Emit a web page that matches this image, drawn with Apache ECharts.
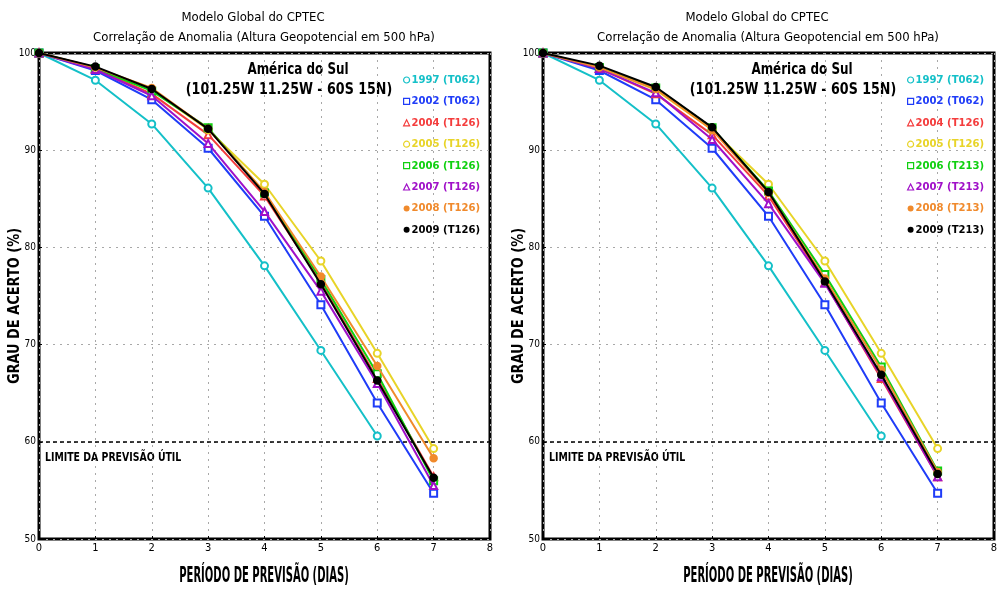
<!DOCTYPE html>
<html><head><meta charset="utf-8">
<script src="https://cdn.jsdelivr.net/npm/echarts@6/dist/echarts.min.js"></script>
<style>html,body{margin:0;padding:0;background:#fff}#c{width:1005px;height:609px}</style>
</head><body><div id="c"></div>
<script>
const days = [0, 1, 2, 3, 4, 5, 6, 7];
const xTickLabels = ['0','1','2','3','4','5','6','7','8'];
const yTickLabels = ['50','60','70','80','90','100'];

const names = ['1997', '2002', '2004', '2005', '2006', '2007', '2008', '2009'];
const resLeft  = ['T062', 'T062', 'T126', 'T126', 'T126', 'T126', 'T126', 'T126'];
const resRight = ['T062', 'T062', 'T126', 'T126', 'T213', 'T213', 'T213', 'T213'];

// left panel values
const L1997 = [100, 97.2, 92.7, 86.1, 78.1, 69.4, 60.6];
const L2002 = [100, 98.2, 95.2, 90.2, 83.2, 74.1, 64.0, 54.7];
const L2004 = [100, 98.4, 95.8, 91.6, 85.3, 76.4, 66.5, 56.4];
const L2005 = [100, 98.5, 96.2, 92.1, 86.5, 78.6, 69.1, 59.3];
const L2006 = [100, 98.4, 96.1, 92.3, 85.6, 76.7, 67.0, 56.0];
const L2007 = [100, 98.3, 95.6, 90.7, 83.7, 75.5, 66.0, 55.5];
const L2008 = [100, 98.5, 96.4, 92.2, 85.7, 77.0, 67.8, 58.3];
const L2009 = [100, 98.6, 96.3, 92.2, 85.5, 76.2, 66.3, 56.3];
// right panel values
const R1997 = [100, 97.2, 92.7, 86.1, 78.1, 69.4, 60.6];
const R2002 = [100, 98.2, 95.2, 90.2, 83.2, 74.1, 64.0, 54.7];
const R2004 = [100, 98.4, 95.8, 91.6, 85.3, 76.4, 66.5, 56.4];
const R2005 = [100, 98.5, 96.2, 92.1, 86.5, 78.6, 69.1, 59.3];
const R2006 = [100, 98.5, 96.4, 92.3, 85.8, 77.2, 67.7, 57.0];
const R2007 = [100, 98.4, 95.9, 91.1, 84.5, 76.3, 66.7, 56.4];
const R2008 = [100, 98.5, 96.3, 92.1, 85.6, 76.8, 67.4, 56.9];
const R2009 = [100, 98.7, 96.5, 92.35, 85.7, 76.5, 66.9, 56.7];

const leftVals = [L1997, L2002, L2004, L2005, L2006, L2007, L2008, L2009];
const rightVals = [R1997, R2002, R2004, R2005, R2006, R2007, R2008, R2009];

const colors = ['#14c0c8', '#1f3cf8', '#f43c3c', '#e8d428', '#10d010', '#a010c8', '#f08a2c', '#000000'];
const symbols = ['emptyCircle', 'emptyRect', 'emptyTriangle', 'emptyCircle', 'emptyRect', 'emptyTriangle', 'circle', 'circle'];
const legendIcons = ['circle', 'rect', 'triangle', 'circle', 'rect', 'triangle', 'circle', 'circle'];
const limitValue = 60;

const FONT = '"DejaVu Sans Condensed", "Liberation Sans Narrow", "DejaVu Sans", sans-serif';

const chart = echarts.init(document.getElementById('c'));

const gridLefts = [39, 543];
const grids = gridLefts.map(l => ({ left: l, top: 53, width: 451, height: 486, show: true, borderColor: '#000', borderWidth: 3, backgroundColor: 'transparent' }));

function xAxis(i) {
  return {
    type: 'value', gridIndex: i, min: 0, max: 8, interval: 1,
    axisLine: { show: false },
    axisTick: { show: true, inside: true, length: 3, lineStyle: { color: '#000' } },
    axisLabel: { color: '#000', fontFamily: FONT, fontSize: 11, margin: 4, formatter: v => xTickLabels[v] },
    splitLine: { show: true, lineStyle: { color: '#a8a8a8', type: [2, 5], width: 1 } }
  };
}
function yAxis(i) {
  return {
    type: 'value', gridIndex: i, min: 50, max: 100, interval: 10,
    axisLine: { show: false },
    axisTick: { show: true, inside: true, length: 3, lineStyle: { color: '#000' } },
    axisLabel: { color: '#000', fontFamily: FONT, fontSize: 10, margin: 3, formatter: v => yTickLabels[(v - 50) / 10] },
    splitLine: { show: true, lineStyle: { color: '#a8a8a8', type: [2, 5], width: 1 } }
  };
}

const series = [];
[leftVals, rightVals].forEach((set, gi) => {
  const res = gi === 0 ? resLeft : resRight;
  set.forEach((vals, k) => {
    const s = {
      type: 'line',
      name: names[k] + ' (' + res[k] + ')',
      xAxisIndex: gi, yAxisIndex: gi,
      data: vals.map((v, j) => [days[j], v]),
      symbol: symbols[k],
      symbolSize: 7,
      showSymbol: true,
      lineStyle: { color: colors[k], width: 2 },
      itemStyle: { color: colors[k], borderColor: colors[k], borderWidth: 1.5 },
      emphasis: { disabled: true },
      animation: false,
      z: 2 + k
    };
    if (k === 0) {
      s.markLine = {
        silent: true, symbol: 'none', animation: false,
        lineStyle: { color: '#000', type: [4, 3], width: 1.5 },
        label: { show: false },
        data: [{ yAxis: limitValue }]
      };
    }
    series.push(s);
  });
});

function legend(gi, leftPx) {
  const res = gi === 0 ? resLeft : resRight;
  return {
    orient: 'vertical', left: leftPx, top: 68, itemGap: 7.4,
    itemWidth: 6, itemHeight: 6, selectedMode: false,
    textStyle: { fontFamily: FONT, fontSize: 11.2, lineHeight: 14, fontWeight: 'bold', padding: [0, 0, 0, -3] },
    data: names.map((n, k) => ({
      name: n + ' (' + res[k] + ')',
      icon: legendIcons[k],
      itemStyle: k >= 6 ? { color: colors[k], borderWidth: 0 } : { color: '#fff', borderColor: colors[k], borderWidth: 1.2 },
      textStyle: { color: colors[k] }
    }))
  };
}

function txt(x, y, text, size, bold, align, sx, rot) {
  return {
    type: 'text', x: x, y: y, scaleX: sx || 1, rotation: rot || 0,
    style: { text: text, fontFamily: FONT, fontSize: size, fontWeight: bold ? 'bold' : 'normal', fill: '#000', align: align, verticalAlign: 'middle' }
  };
}

const graphics = [];
gridLefts.forEach(l => {
  graphics.push(
    txt(l + 214, 18, 'Modelo Global do CPTEC', 13, false, 'center', 1),
    txt(l + 225, 38, 'Correlação de Anomalia (Altura Geopotencial em 500 hPa)', 13, false, 'center', 1),
    txt(l + 259, 70, 'América do Sul', 16, true, 'center', 0.83),
    txt(l + 250, 90, '(101.25W 11.25W - 60S 15N)', 16, true, 'center', 0.88),
    txt(l + 6, 458, 'LIMITE DA PREVISÃO ÚTIL', 13, true, 'left', 0.8),
    txt(l + 225, 577, 'PERÍODO DE PREVISÃO (DIAS)', 21, true, 'center', 0.53),
    {
      type: 'text', x: l - 24, y: 306, rotation: Math.PI / 2, scaleX: 0.9,
      style: { text: 'GRAU DE ACERTO (%)', fontFamily: FONT, fontSize: 16, fontWeight: 'bold', fill: '#000', align: 'center', verticalAlign: 'middle' }
    }
  );
});

chart.setOption({
  backgroundColor: '#fff',
  animation: false,
  grid: grids,
  xAxis: [xAxis(0), xAxis(1)],
  yAxis: [yAxis(0), yAxis(1)],
  legend: [legend(0, 398), legend(1, 902)],
  series: series,
  graphic: graphics
});
</script>
</body></html>
